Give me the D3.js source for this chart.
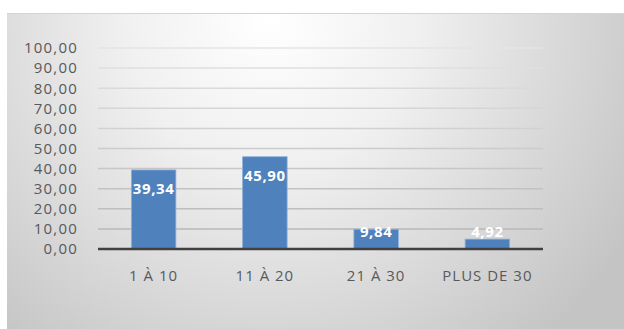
<!DOCTYPE html>
<html>
<head>
<meta charset="utf-8">
<script src="https://cdn.jsdelivr.net/npm/d3@7"></script>
<style>
  body { margin: 0; background: #fff; }
  svg { display: block; }
</style>
</head>
<body>
<div id="chart"></div>
<script>
const width = 624
const height = 329
const categories = ["1 À 10", "11 À 20", "21 À 30", "PLUS DE 30"]
const values = [39.34, 45.9, 9.84, 4.92]
const yTicks = [0, 10, 20, 30, 40, 50, 60, 70, 80, 90, 100]

const plot = { left: 98, right: 543, top: 48, bottom: 249 }
const fmt = (v) => d3.format(".2f")(v).replace(".", ",")

const svg = d3.select("#chart").append("svg")
  .attr("width", width)
  .attr("height", height)

const defs = svg.append("defs")
const bg = defs.append("radialGradient")
  .attr("id", "bg")
  .attr("gradientUnits", "userSpaceOnUse")
  .attr("cx", 270).attr("cy", 20).attr("r", 420)
bg.append("stop").attr("offset", "0%").attr("stop-color", "#ffffff")
bg.append("stop").attr("offset", "35%").attr("stop-color", "#f0f0f0")
bg.append("stop").attr("offset", "100%").attr("stop-color", "#c4c4c4")

// chart area
svg.append("rect")
  .attr("x", 7).attr("y", 13)
  .attr("width", width - 7).attr("height", height - 13)
  .style("fill", "url(#bg)")
svg.append("line")
  .attr("x1", 7).attr("x2", width).attr("y1", 13.5).attr("y2", 13.5)
  .style("stroke", "#d4d4d4")

var xScale = d3.scaleBand(categories, [plot.left, plot.right]).paddingInner(0.6).paddingOuter(0.3)
var yScale = d3.scaleLinear([0, 100], [plot.bottom, plot.top])

// Grid
svg.append("g")
  .attr("id", "grid")
  .selectAll("line")
  .data(yTicks.filter((d) => d > 0))
  .enter()
  .append("line")
  .attr("x1", plot.left)
  .attr("x2", plot.right)
  .attr("y1", (d) => yScale(d))
  .attr("y2", (d) => yScale(d))
  .style("stroke", (d) => d3.interpolateRgb("#b4b4b4", "#e4e4e4")(d / 100))
  .style("stroke-width", "1.5px")

// Y axis labels
var yAxis = d3.axisLeft(yScale).tickValues(yTicks).tickFormat(fmt).tickSize(0).tickPadding(0)
svg.append("g")
  .attr("id", "yaxis")
  .attr("transform", `translate(78,0)`)
  .call(yAxis)
  .call((g) => g.select(".domain").remove())
  .selectAll("text")
  .style("font-family", "'Open Sans', sans-serif")
  .style("font-size", "15px")
  .style("letter-spacing", "1.2px")
  .style("fill", "#595959")

// Bars
svg.append("g")
  .attr("id", "bars")
  .selectAll("rect")
  .data(values)
  .enter()
  .append("rect")
  .attr("x", (_d, i) => xScale(categories[i]))
  .attr("y", (d) => yScale(d))
  .attr("width", xScale.bandwidth())
  .attr("height", (d) => yScale(0) - yScale(d))
  .style("fill", "#4f81bd")
  .style("stroke", "#8eb0da")
  .style("stroke-width", "0.8px")

// Baseline
svg.append("line")
  .attr("x1", plot.left).attr("x2", plot.right)
  .attr("y1", yScale(0)).attr("y2", yScale(0))
  .style("stroke", "#404040")
  .style("stroke-width", "2.5px")

// Data labels: inside end, but kept above the baseline for short bars
svg.append("g")
  .attr("id", "labels")
  .selectAll("text")
  .data(values)
  .enter()
  .append("text")
  .attr("x", (_d, i) => xScale(categories[i]) + xScale.bandwidth() / 2)
  .attr("y", (d) => Math.min(yScale(d) + 19, yScale(0) - 17) + 5)
  .attr("text-anchor", "middle")
  .text(fmt)
  .style("font-family", "'Open Sans', sans-serif")
  .style("font-size", "15px")
  .style("font-weight", "bold")
  .style("letter-spacing", "0.6px")
  .style("fill", "#ffffff")

// Category labels
svg.append("g")
  .attr("id", "xaxis")
  .selectAll("text")
  .data(categories)
  .enter()
  .append("text")
  .attr("x", (d) => xScale(d) + xScale.bandwidth() / 2)
  .attr("y", 281)
  .attr("text-anchor", "middle")
  .text((d) => d)
  .style("font-family", "'Open Sans', sans-serif")
  .style("font-size", "15px")
  .style("letter-spacing", "1px")
  .style("fill", "#595959")
</script>
</body>
</html>
